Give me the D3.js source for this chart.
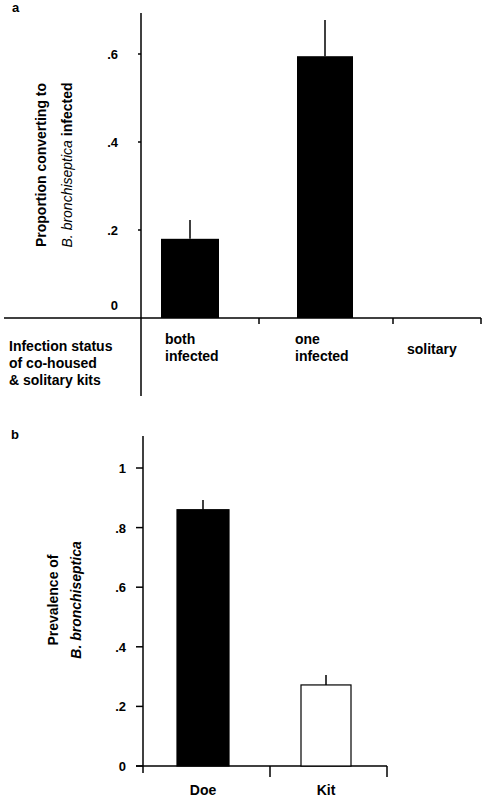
<!DOCTYPE html><html><head><meta charset="utf-8">
<script src="https://cdn.jsdelivr.net/npm/d3@7"></script>
<style>body{margin:0;background:#fff}text{font-family:"Liberation Sans",Arial,sans-serif;font-weight:bold;fill:#000}</style></head><body>
<script>
const catsA=["both infected","one infected","solitary"];
const valsA=[0.18,0.595,null];
const errA=[0.223,0.677,null];
const ticksA=[0,0.2,0.4,0.6];
const catsB=["Doe","Kit"];
const valsB=[0.86,0.272];
const errB=[0.893,0.305];
const ticksB=[0,0.2,0.4,0.6,0.8,1];
const fmt=v=>v===0?"0":v===1?"1":String(v).replace(/^0/,"");
const svg=d3.select("body").append("svg").attr("width",487).attr("height",800);
const ln=(x1,y1,x2,y2,w=1.5)=>svg.append("line").attr("x1",x1).attr("y1",y1).attr("x2",x2).attr("y2",y2).attr("stroke","#000").attr("stroke-width",w);
// Panel a
const yA=d3.scaleLinear().domain([0,0.6]).range([318,54]);
const xA=d3.scaleBand().domain(catsA).range([141,481]).paddingInner(0).paddingOuter(0);
const xAb=d3.scaleOrdinal().domain(catsA).range([[161,219],[297,353],[0,0]]);
svg.append("text").attr("x",12).attr("y",12).attr("font-size",13).text("a");
ln(141,13,141,396);ln(4,318,481,318);
[259,393,481].forEach(x=>ln(x,318,x,324));
ticksA.forEach(t=>{ if(t>0) ln(138,yA(t),141,yA(t)); svg.append("text").attr("x",118).attr("y",yA(t)-(t===0?8:-5)).attr("text-anchor","end").attr("font-size",13).text(fmt(t));});
catsA.forEach((c,i)=>{ if(valsA[i]==null) return; const [a,b]=xAb(c);
 svg.append("rect").attr("x",a).attr("y",yA(valsA[i])).attr("width",b-a).attr("height",yA(0)-yA(valsA[i])).attr("fill","#000");
 ln((a+b)/2,yA(valsA[i]),(a+b)/2,yA(errA[i]));});
const labA=[["both","infected"],["one","infected"],["solitary"]];
const labX=[165,295,407];
labA.forEach((l,i)=>{const t=svg.append("text").attr("x",labX[i]).attr("y",l.length>1?344:354).attr("font-size",14);
 l.forEach((s,j)=>t.append("tspan").attr("x",labX[i]).attr("dy",j?17:0).text(s));});
const lt=svg.append("text").attr("x",9).attr("y",351).attr("font-size",14);
["Infection status","of co-housed","& solitary kits"].forEach((s,j)=>lt.append("tspan").attr("x",9).attr("dy",j?17:0).text(s));
const ta=svg.append("text").attr("transform","translate(46,165) rotate(-90)").attr("text-anchor","middle").attr("font-size",14);
ta.append("tspan").text("Proportion converting to");
const ta2=svg.append("text").attr("transform","translate(72,165) rotate(-90)").attr("text-anchor","middle").attr("font-size",14);
ta2.append("tspan").attr("font-style","italic").attr("font-weight","normal").text("B. bronchiseptica");
ta2.append("tspan").text("  infected");
// Panel b
const yB=d3.scaleLinear().domain([0,1]).range([766,468]);
const xBb=d3.scaleOrdinal().domain(catsB).range([[177,229],[301,351]]);
svg.append("text").attr("x",11).attr("y",439).attr("font-size",13).text("b");
ln(143,436,143,773);ln(136,766,387,766);
[270,387].forEach(x=>ln(x,766,x,777));
ticksB.forEach(t=>{ ln(136,yB(t),143,yB(t)); svg.append("text").attr("x",126).attr("y",yB(t)+5).attr("text-anchor","end").attr("font-size",13).text(fmt(t));});
catsB.forEach((c,i)=>{const [a,b]=xBb(c);
 svg.append("rect").attr("x",a).attr("y",yB(valsB[i])).attr("width",b-a).attr("height",yB(0)-yB(valsB[i])).attr("fill",i?"#fff":"#000").attr("stroke","#000").attr("stroke-width",1.2);
 ln((a+b)/2,yB(valsB[i]),(a+b)/2,yB(errB[i]));
 svg.append("text").attr("x",(a+b)/2).attr("y",795).attr("text-anchor","middle").attr("font-size",14).text(c);});
svg.append("text").attr("transform","translate(58,600) rotate(-90)").attr("text-anchor","middle").attr("font-size",14).text("Prevalence of");
svg.append("text").attr("transform","translate(81,600) rotate(-90)").attr("text-anchor","middle").attr("font-size",14).attr("font-style","italic").attr("font-weight","normal").text("B. bronchiseptica");
</script></body></html>
